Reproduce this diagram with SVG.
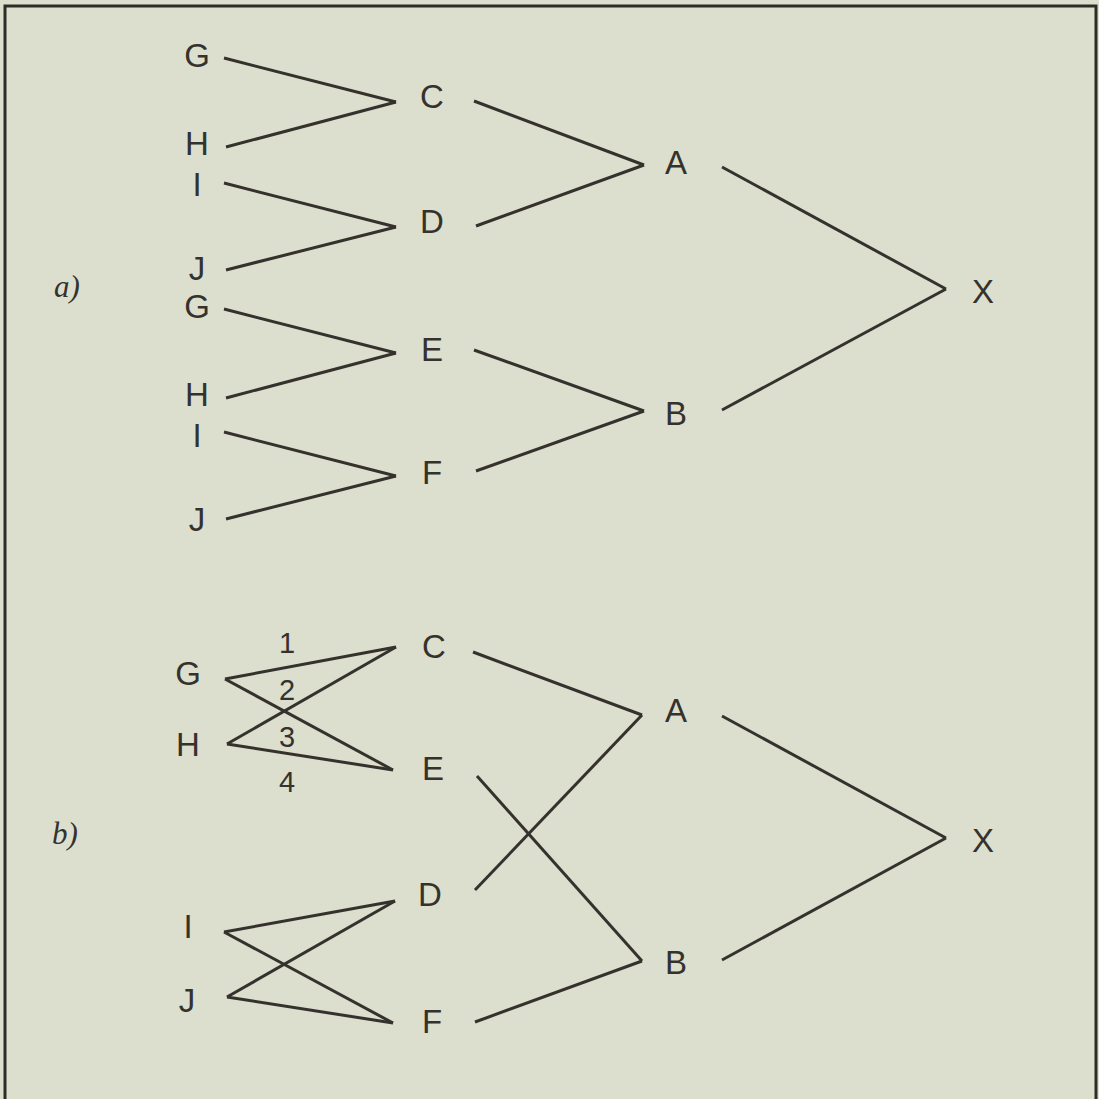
<svg xmlns="http://www.w3.org/2000/svg" width="1099" height="1099" viewBox="0 0 1099 1099">
<style>
.bg{fill:#dcdfcd}
.frame{fill:none;stroke:#2e2c28;stroke-width:3}
.lbl{font-family:"Liberation Sans",Arial,sans-serif;font-size:33px;fill:#35322e;text-anchor:middle}
.num{font-family:"Liberation Sans",Arial,sans-serif;font-size:29px;fill:#35322e;text-anchor:middle}
.part{font-family:"Liberation Serif","Times New Roman",serif;font-style:italic;font-size:31px;fill:#35322e}
.edges line{stroke:#35322e;stroke-width:3;stroke-linecap:butt}
</style>
<rect class="bg" x="0" y="0" width="1099" height="1099"/>
<path class="frame" d="M5,1099 V6 H1096 V1099"/>
<g class="edges">
<line x1="224" y1="58" x2="396" y2="102"/>
<line x1="226" y1="147" x2="396" y2="102"/>
<line x1="224" y1="183" x2="396" y2="227"/>
<line x1="226" y1="270" x2="396" y2="227"/>
<line x1="224" y1="309" x2="396" y2="353"/>
<line x1="226" y1="398" x2="396" y2="353"/>
<line x1="224" y1="432" x2="396" y2="476"/>
<line x1="226" y1="519" x2="396" y2="476"/>
<line x1="474" y1="101" x2="644" y2="165"/>
<line x1="476" y1="226" x2="644" y2="165"/>
<line x1="474" y1="350" x2="644" y2="411"/>
<line x1="476" y1="471" x2="644" y2="411"/>
<line x1="722" y1="167" x2="946" y2="289"/>
<line x1="722" y1="410" x2="946" y2="289"/>
<line x1="225" y1="679" x2="396" y2="647"/>
<line x1="225" y1="679" x2="393" y2="770"/>
<line x1="227" y1="744" x2="396" y2="647"/>
<line x1="227" y1="744" x2="393" y2="770"/>
<line x1="224" y1="932" x2="395" y2="901"/>
<line x1="224" y1="932" x2="393" y2="1023"/>
<line x1="227" y1="997" x2="395" y2="901"/>
<line x1="227" y1="997" x2="393" y2="1023"/>
<line x1="473" y1="652" x2="642" y2="715"/>
<line x1="475" y1="890" x2="642" y2="715"/>
<line x1="477" y1="776" x2="642" y2="961"/>
<line x1="475" y1="1022" x2="642" y2="961"/>
<line x1="722" y1="716" x2="946" y2="838"/>
<line x1="722" y1="960" x2="946" y2="838"/>
</g>
<g id="label-a"><text class="part" x="54" y="297">a)</text></g>
<g id="label-b"><text class="part" x="52" y="844">b)</text></g>
<g id="a-G1"><text class="lbl" x="197" y="67">G</text></g>
<g id="a-H1"><text class="lbl" x="197" y="155">H</text></g>
<g id="a-I1"><text class="lbl" x="197" y="196">I</text></g>
<g id="a-J1"><text class="lbl" x="197" y="280">J</text></g>
<g id="a-G2"><text class="lbl" x="197" y="318">G</text></g>
<g id="a-H2"><text class="lbl" x="197" y="406">H</text></g>
<g id="a-I2"><text class="lbl" x="197" y="447">I</text></g>
<g id="a-J2"><text class="lbl" x="197" y="531">J</text></g>
<g id="a-C"><text class="lbl" x="432" y="108">C</text></g>
<g id="a-D"><text class="lbl" x="432" y="233">D</text></g>
<g id="a-E"><text class="lbl" x="432" y="361">E</text></g>
<g id="a-F"><text class="lbl" x="432" y="484">F</text></g>
<g id="a-A"><text class="lbl" x="676" y="174">A</text></g>
<g id="a-B"><text class="lbl" x="676" y="425">B</text></g>
<g id="a-X"><text class="lbl" x="983" y="303">X</text></g>
<g id="b-G"><text class="lbl" x="188" y="685">G</text></g>
<g id="b-H"><text class="lbl" x="188" y="756">H</text></g>
<g id="b-I"><text class="lbl" x="188" y="938">I</text></g>
<g id="b-J"><text class="lbl" x="187" y="1012">J</text></g>
<g id="b-C"><text class="lbl" x="434" y="658">C</text></g>
<g id="b-E"><text class="lbl" x="433" y="780">E</text></g>
<g id="b-D"><text class="lbl" x="430" y="906">D</text></g>
<g id="b-F"><text class="lbl" x="432" y="1033">F</text></g>
<g id="b-A"><text class="lbl" x="676" y="722">A</text></g>
<g id="b-B"><text class="lbl" x="676" y="974">B</text></g>
<g id="b-X"><text class="lbl" x="983" y="852">X</text></g>
<g id="n1"><text class="num" x="287" y="653">1</text></g>
<g id="n2"><text class="num" x="287" y="700">2</text></g>
<g id="n3"><text class="num" x="287" y="747">3</text></g>
<g id="n4"><text class="num" x="287" y="792">4</text></g>
</svg>
